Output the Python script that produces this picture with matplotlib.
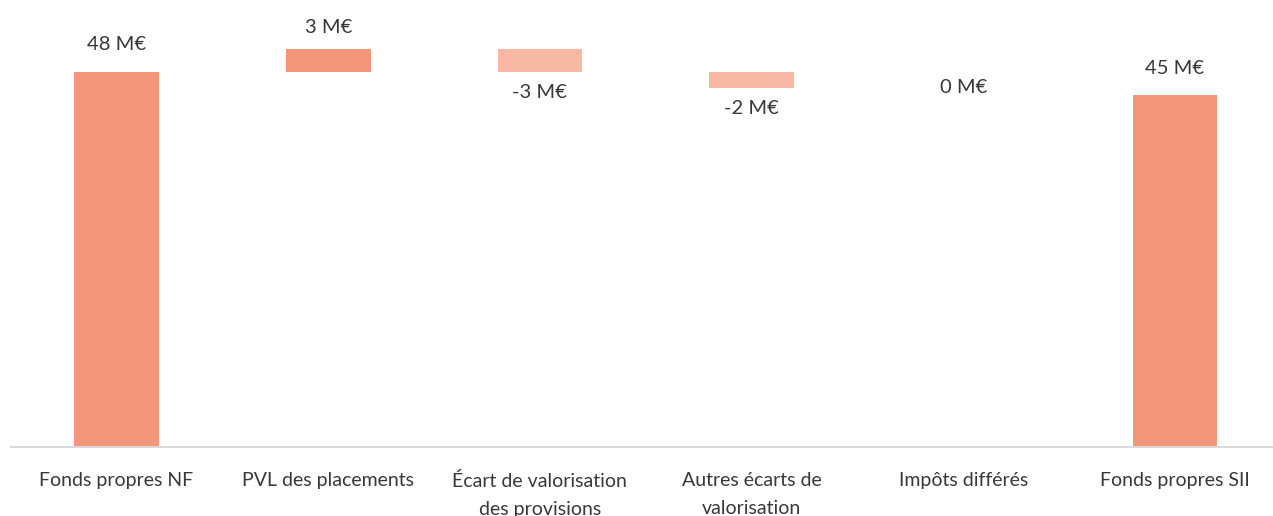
"""
Waterfall chart: fonds propres NF -> fonds propres SII.
"""

import matplotlib.pyplot as plt

categories = [
    "Fonds propres NF",
    "PVL des placements",
    "Écart de valorisation\ndes provisions",
    "Autres écarts de\nvalorisation",
    "Impôts différés",
    "Fonds propres SII",
]
values = [48, 3, -3, -2, 0, 45]
kinds = ["total", "delta", "delta", "delta", "delta", "total"]

TOTAL_COLOR = "#F4967A"
UP_COLOR = "#F4967A"
DOWN_COLOR = "#F9B8A4"
TEXT_COLOR = "#383838"

plt.rcParams["font.family"] = ["Lato", "DejaVu Sans"]

fig = plt.figure(figsize=(12.73, 5.16), dpi=100)
# axes extend slightly past the right edge, baseline sits at y=447 px
ax = fig.add_axes([10.7 / 1273, (516 - 447) / 516, 1270 / 1273, 447 / 516])

level = 0
for i, (val, kind) in enumerate(zip(values, kinds)):
    if kind == "total":
        bottom, height = 0, val
        level = val
        color = TOTAL_COLOR
    else:
        bottom = level if val >= 0 else level + val
        height = abs(val)
        color = UP_COLOR if val >= 0 else DOWN_COLOR
        level += val

    if height > 0:
        ax.bar(i, height, bottom=bottom, width=0.40, color=color, zorder=2)

    # label above rising bars, below falling ones, on the level for zero
    if kind == "total":
        offset = 27
    elif val > 0:
        offset = 21
    elif val < 0:
        offset = -21
    else:
        offset = 0
    ax.annotate(f"{val} M€", (i, level), xytext=(0, offset), textcoords="offset pixels",
                ha="center", va="center", fontsize=14.5, color=TEXT_COLOR)

ax.set_xlim(-0.5, len(categories) - 0.5)
ax.set_ylim(0, 447 / 7.8125)

ax.set_xticks(range(len(categories)))
ax.set_xticklabels(categories, fontsize=14, color=TEXT_COLOR, linespacing=1.75, va="top")
ax.tick_params(axis="x", length=0, pad=18)
ax.set_yticks([])

for side in ["top", "right", "left"]:
    ax.spines[side].set_visible(False)
ax.spines["bottom"].set_color("#D9D9D9")
ax.spines["bottom"].set_linewidth(1.5)

fig.savefig("out.png", dpi=100)
